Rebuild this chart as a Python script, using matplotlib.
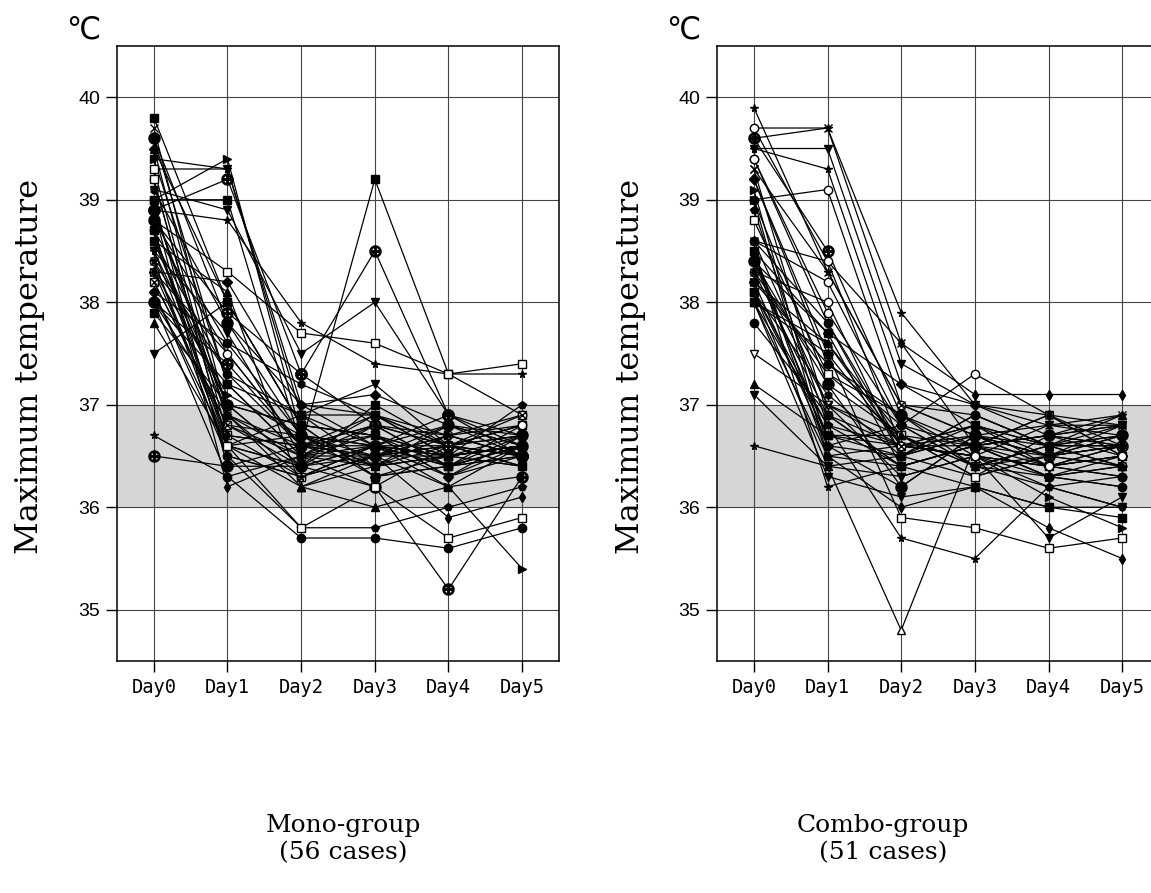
import matplotlib
matplotlib.use("Agg")
import matplotlib.pyplot as plt

# x categories
days = ["Day0", "Day1", "Day2", "Day3", "Day4", "Day5"]

# Mono-group, 56 cases: one list per day, case i is the i-th entry of each list
mono_day0 = [39.8, 39.6, 39.5, 39.4, 39.3, 39.2, 39.1, 39.0, 39.0, 38.9,
             38.9, 38.8, 38.8, 38.7, 38.7, 38.6, 38.6, 38.5, 38.5, 38.4,
             38.4, 38.3, 38.3, 38.2, 38.1, 38.1, 38.0, 38.0, 38.0, 37.9,
             37.8, 37.5, 36.7, 36.5, 39.7, 39.5, 39.4, 39.3, 39.1, 39.0,
             38.9, 38.9, 38.8, 38.7, 38.6, 38.5, 38.4, 38.3, 38.2, 38.1,
             38.0, 39.2, 38.6, 38.9, 39.6, 38.3]
mono_day1 = [38.0, 37.2, 36.8, 39.3, 39.3, 36.6, 38.9, 39.4, 39.0, 39.2,
             38.8, 38.3, 37.9, 37.5, 36.5, 37.0, 36.9, 37.7, 36.7, 37.3,
             36.6, 38.2, 37.1, 36.8, 37.6, 36.5, 37.4, 36.9, 36.3, 37.0,
             36.6, 38.0, 36.3, 36.4, 36.9, 38.0, 37.2, 36.7, 37.8, 36.4,
             37.0, 36.2, 37.6, 36.6, 38.1, 37.0, 36.5, 37.5, 36.8, 36.6,
             37.2, 36.6, 37.3, 36.9, 37.8, 36.7]
mono_day2 = [36.8, 36.5, 36.4, 36.9, 37.0, 36.7, 37.5, 36.7, 36.6, 37.3,
             37.8, 37.7, 37.3, 36.6, 36.3, 36.8, 36.2, 36.5, 36.6, 36.9,
             36.4, 37.0, 36.7, 36.5, 37.2, 35.8, 36.6, 36.3, 35.7, 36.4,
             36.2, 36.8, 36.5, 36.4, 36.6, 36.8, 36.5, 36.3, 37.0, 36.6,
             36.4, 36.5, 36.7, 36.9, 36.2, 36.8, 36.3, 36.6, 36.7, 36.4,
             36.9, 35.8, 36.6, 36.5, 36.7, 36.6]
mono_day3 = [36.7, 36.9, 36.6, 37.2, 36.6, 36.4, 38.0, 36.5, 39.2, 38.5,
             37.4, 37.6, 36.8, 36.5, 36.6, 36.3, 36.5, 36.7, 36.9, 36.4,
             36.8, 37.1, 36.6, 36.2, 36.9, 35.8, 36.6, 36.5, 35.7, 37.0,
             36.4, 36.7, 36.6, 36.2, 36.5, 36.3, 36.8, 36.6, 36.9, 36.7,
             36.5, 36.4, 36.3, 36.6, 36.0, 36.7, 36.5, 36.8, 36.4, 36.6,
             36.9, 36.2, 36.4, 36.5, 36.6, 36.8]
mono_day4 = [36.5, 36.6, 36.8, 36.6, 36.4, 36.5, 36.9, 36.2, 37.3, 36.9,
             37.3, 37.3, 36.6, 36.7, 36.5, 36.4, 36.6, 36.3, 36.5, 36.7,
             36.4, 36.8, 36.2, 36.6, 36.5, 36.0, 36.9, 35.9, 35.6, 36.6,
             36.5, 36.4, 36.5, 35.2, 36.6, 36.5, 36.7, 36.4, 36.6, 36.3,
             36.8, 36.6, 36.4, 36.5, 36.2, 36.5, 36.7, 36.6, 36.5, 36.3,
             36.7, 35.7, 36.8, 36.5, 36.6, 36.4]
mono_day5 = [36.6, 36.7, 36.5, 36.4, 36.8, 36.6, 36.6, 35.4, 36.9, 36.5,
             37.3, 37.4, 36.5, 36.8, 36.6, 36.5, 36.7, 36.6, 36.4, 36.9,
             36.6, 36.7, 36.3, 36.5, 36.6, 36.2, 36.7, 36.1, 35.8, 36.8,
             36.6, 36.5, 36.6, 36.3, 36.9, 36.7, 36.5, 36.6, 36.4, 36.5,
             36.6, 36.8, 36.7, 36.4, 36.6, 36.6, 36.5, 36.8, 36.6, 36.7,
             36.5, 35.9, 36.6, 37.0, 36.5, 36.6]

# Combo-group, 51 cases
combo_day0 = [39.9, 39.7, 39.6, 39.5, 39.5, 39.4, 39.3, 39.2, 39.1, 39.0,
              39.0, 38.9, 39.6, 38.6, 38.6, 38.5, 38.5, 38.4, 38.4, 38.3,
              38.3, 38.2, 38.2, 38.1, 38.1, 38.0, 38.0, 38.0, 37.8, 37.5,
              37.2, 37.1, 36.6, 39.4, 39.3, 39.2, 39.0, 38.8, 38.6, 38.5,
              38.4, 38.3, 38.2, 38.1, 38.0, 38.0, 38.5, 39.7, 38.6, 38.4,
              38.1]
combo_day1 = [38.3, 39.7, 39.7, 39.5, 39.3, 37.8, 36.9, 37.4, 36.6, 39.1,
              37.2, 36.8, 38.5, 38.4, 38.2, 37.7, 36.5, 37.0, 36.7, 38.0,
              37.3, 36.6, 37.6, 36.4, 37.1, 36.8, 37.5, 36.5, 36.9, 37.0,
              36.7, 36.4, 36.4, 37.9, 38.3, 37.5, 36.5, 37.3, 37.8, 36.6,
              37.2, 36.9, 37.4, 36.7, 37.6, 36.3, 36.2, 38.4, 37.0, 37.7,
              36.8]
combo_day2 = [37.0, 37.9, 37.6, 37.4, 37.2, 36.6, 36.4, 36.8, 36.5, 37.0,
              36.7, 36.6, 36.9, 37.6, 36.8, 36.4, 36.6, 36.3, 36.7, 36.5,
              36.9, 36.2, 36.6, 34.8, 36.5, 35.7, 35.9, 36.0, 36.4, 36.7,
              36.6, 36.3, 36.5, 36.8, 37.0, 36.6, 36.4, 36.7, 36.5, 36.8,
              36.2, 36.6, 36.9, 36.5, 36.7, 36.1, 36.4, 36.6, 36.6, 37.2,
              36.4]
combo_day3 = [36.7, 37.0, 36.6, 37.0, 36.8, 36.5, 36.6, 36.4, 36.7, 36.9,
              36.3, 36.5, 36.6, 37.1, 37.3, 36.2, 36.8, 36.5, 36.6, 36.9,
              36.4, 36.7, 36.5, 36.6, 36.3, 35.5, 35.8, 36.2, 36.6, 36.4,
              36.8, 36.5, 36.7, 36.6, 36.7, 36.5, 36.6, 36.3, 36.9, 36.4,
              36.7, 36.6, 36.5, 36.8, 36.4, 36.2, 36.6, 36.5, 36.7, 37.0,
              36.6]
combo_day4 = [36.5, 36.8, 36.9, 36.9, 36.6, 36.4, 36.7, 36.3, 36.4, 36.6,
              36.5, 36.2, 36.7, 37.1, 36.9, 36.0, 36.6, 36.8, 36.3, 36.6,
              36.5, 36.4, 36.1, 36.5, 36.7, 36.2, 35.6, 35.8, 36.4, 36.6,
              36.5, 35.7, 36.6, 36.3, 36.8, 36.4, 36.7, 36.5, 36.6, 36.2,
              36.5, 36.9, 36.3, 36.4, 36.6, 36.0, 36.7, 36.4, 36.5, 36.7,
              36.3]
combo_day5 = [36.6, 36.7, 36.5, 36.8, 36.7, 36.3, 36.8, 36.5, 36.6, 36.4,
              36.7, 36.0, 36.6, 37.1, 36.5, 35.9, 36.9, 36.8, 36.2, 36.6,
              36.4, 36.5, 35.8, 36.6, 36.8, 36.0, 35.7, 35.5, 36.3, 36.6,
              36.4, 36.1, 36.7, 36.4, 36.9, 36.6, 36.5, 36.6, 36.8, 36.3,
              36.7, 36.6, 36.2, 36.5, 36.4, 36.0, 36.9, 36.5, 36.8, 36.6,
              36.4]

normal_band = (36.0, 37.0)
y_ticks = [35, 36, 37, 38, 39, 40]

# marker cycle: (marker, filled)
MARKERS = [("o", True), ("s", True), ("^", True), ("v", True), ("*", True),
           ("o", False), ("x", True), ("D", True), (">", True), ("s", False),
           ("h", True), ("p", True), ("$\\oplus$", True), ("d", True)]


def draw_panel(ax, columns, special):
    n = len(columns[0])
    x = range(len(days))
    for i in range(n):
        y = [col[i] for col in columns]
        m, filled = special.get(i, MARKERS[i % len(MARKERS)])
        ms = 6 if m in ("s", "o", ">", "v", "^") else 5.5
        if m.startswith("$"):
            ms = 8
        ax.plot(x, y, color="black", lw=0.9, marker=m, ms=ms,
                mfc="black" if filled else "white", mec="black", mew=1.0,
                zorder=3)

    ax.axhspan(*normal_band, color="#d6d6d6", zorder=0, lw=0)
    ax.set_xlim(-0.5, 5.5)
    ax.set_ylim(34.5, 40.5)
    ax.set_xticks(list(x))
    ax.set_xticklabels(days, fontfamily="DejaVu Sans Mono", fontsize=13.5)
    ax.set_yticks(y_ticks)
    ax.set_yticklabels([str(v) for v in y_ticks], fontfamily="Liberation Sans", fontsize=14)
    ax.grid(True, color="#444444", lw=0.8, zorder=1)
    ax.set_axisbelow(True)
    ax.tick_params(direction="out", length=8, width=1, pad=4)
    for sp in ax.spines.values():
        sp.set_linewidth(1.1)


fig = plt.figure(figsize=(11.51, 8.93), dpi=100)
W, H = 1151, 893
ax1 = fig.add_axes([117 / W, 232 / H, 442 / W, 615 / H])
ax2 = fig.add_axes([717 / W, 232 / H, 442 / W, 615 / H])

mono_cols = [mono_day0, mono_day1, mono_day2, mono_day3, mono_day4, mono_day5]
combo_cols = [combo_day0, combo_day1, combo_day2, combo_day3, combo_day4, combo_day5]

draw_panel(ax1, mono_cols, {0: ("s", True), 7: (">", True), 8: ("s", True),
                            9: ("$\\oplus$", True), 10: ("*", True), 11: ("s", False),
                            6: ("v", True), 33: ("$\\oplus$", True)})
draw_panel(ax2, combo_cols, {0: ("*", True), 1: ("*", True), 2: ("x", True),
                             9: ("o", False), 23: ("^", False), 29: ("v", False),
                             26: ("s", False), 25: ("*", True), 14: ("o", False)})

for x0 in (0, 600):
    fig.text((30 + x0) / W, 0.59, "Maximum temperature", rotation=90,
             ha="center", va="center", fontfamily="DejaVu Serif", fontsize=23)
    fig.text((83 + x0) / W, 1 - 30 / H, "\u2103", ha="center", va="center",
             fontfamily=["DejaVu Sans", "Noto Sans CJK JP"], fontsize=22)

fig.text(343 / W, 1 - 839 / H, "Mono-group\n(56 cases)", ha="center", va="center",
         fontfamily="DejaVu Serif", fontsize=18, linespacing=1.25)
fig.text(883 / W, 1 - 839 / H, "Combo-group\n(51 cases)", ha="center", va="center",
         fontfamily="DejaVu Serif", fontsize=18, linespacing=1.25)

fig.savefig("out.png", dpi=100)
